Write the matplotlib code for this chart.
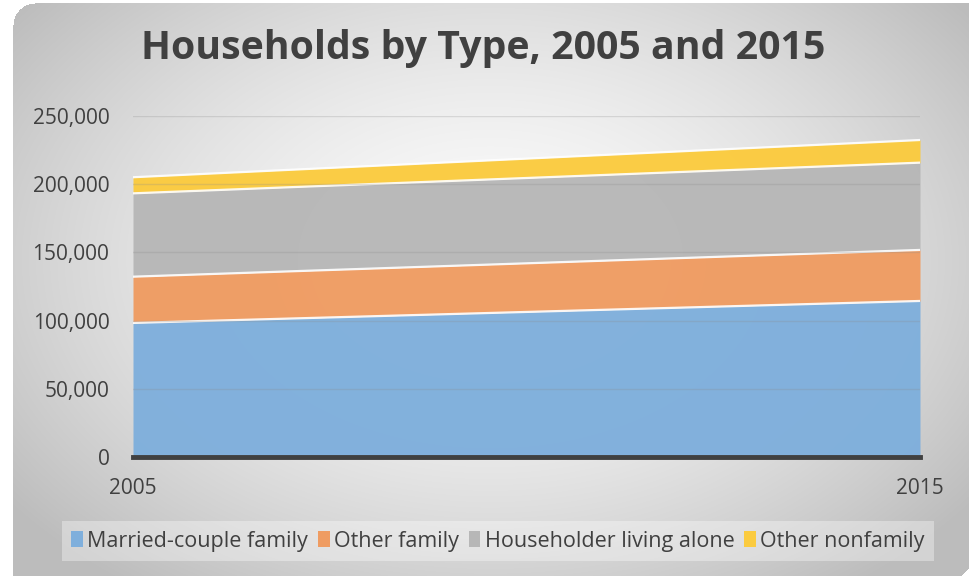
""" Households by type, 2005 and 2015 """
import numpy as np
import matplotlib.pyplot as plt
from matplotlib.patches import Patch

plt.rcParams['font.family'] = ['Open Sans', 'DejaVu Sans']

# Data
years = ['2005', '2015']
married = [98300, 114400]
other_family = [33900, 37400]
living_alone = [61100, 64000]
other_nonfamily = [11800, 16600]

labels = ['Married-couple family', 'Other family', 'Householder living alone', 'Other nonfamily']
colors = ['#7fafdc', '#ef9c62', '#b7b7b7', '#fbcb3f']
yticks = [0, 50000, 100000, 150000, 200000, 250000]

W, H = 970, 576
fig = plt.figure(figsize=(W / 100, H / 100), dpi=100)

# background card with radial gradient
bg = fig.add_axes([0, 0, 1, 1], zorder=-10)
xx, yy = np.meshgrid(np.arange(W), np.arange(H))
r = np.sqrt(((xx - 490) / 560.0) ** 2 + ((yy - 260) / 380.0) ** 2)
val = np.clip(0.985 - 0.22 * r ** 1.6, 0.74, 1.0)
img = np.dstack([val, val, val])
rad = 22
mask = (xx < 13) | (yy < 3)
corner = (xx < 13 + rad) & (yy < 3 + rad) & ((xx - 13 - rad) ** 2 + (yy - 3 - rad) ** 2 > rad ** 2)
cut = (xx + yy) > (W + H - 10)
img[mask | corner | cut] = 1.0
bg.imshow(img, extent=[0, W, H, 0], aspect='auto')
bg.set_xlim(0, W)
bg.set_ylim(H, 0)
bg.axis('off')

ax = fig.add_axes([133 / W, 1 - 457 / H, (920 - 133) / W, (457 - 116) / H])
ax.patch.set_alpha(0)
x = np.arange(len(years))
series = [married, other_family, living_alone, other_nonfamily]
base = np.zeros(len(years))
for vals, c in zip(series, colors):
    top = base + np.array(vals)
    ax.fill_between(x, base, top, color=c, alpha=0.97, linewidth=0, zorder=2)
    ax.plot(x, top, color='white', linewidth=1.6, alpha=0.9, zorder=3)
    base = top
ax.set_xlim(0, 1)
ax.set_ylim(0, 250000)
ax.set_yticks(yticks)
ax.set_yticklabels(['{:,}'.format(v) for v in yticks])
ax.set_xticks(x)
ax.set_xticklabels(years)
for v in yticks[1:]:
    ax.axhline(v, color='#8c8c8c', alpha=0.25, linewidth=1, zorder=3)
ax.axhline(0, color='#404040', linewidth=3.5, zorder=4, clip_on=False)
for s in ax.spines.values():
    s.set_visible(False)
ax.tick_params(length=0, labelsize=15, colors='#404040')
ax.tick_params(axis='y', pad=17)
ax.tick_params(axis='x', pad=15)

fig.text(483 / W, 1 - 48 / H, 'Households by Type, 2005 and 2015',
         ha='center', va='center', fontsize=28.3, fontweight='bold', color='#404040')

handles = [Patch(facecolor=c, edgecolor='none') for c in colors]
leg = fig.legend(handles, labels, loc='center', bbox_to_anchor=(498 / W, 1 - 541 / H),
                 ncol=4, fontsize=15.5, frameon=True, handlelength=0.55, handleheight=0.8,
                 handletextpad=0.2, columnspacing=0.45, borderpad=0.45)
leg.get_frame().set_facecolor('white')
leg.get_frame().set_alpha(0.35)
leg.get_frame().set_edgecolor('none')
leg.get_frame().set_boxstyle('square', pad=0)
for t in leg.get_texts():
    t.set_color('#404040')

plt.savefig('out.png', dpi=100)
